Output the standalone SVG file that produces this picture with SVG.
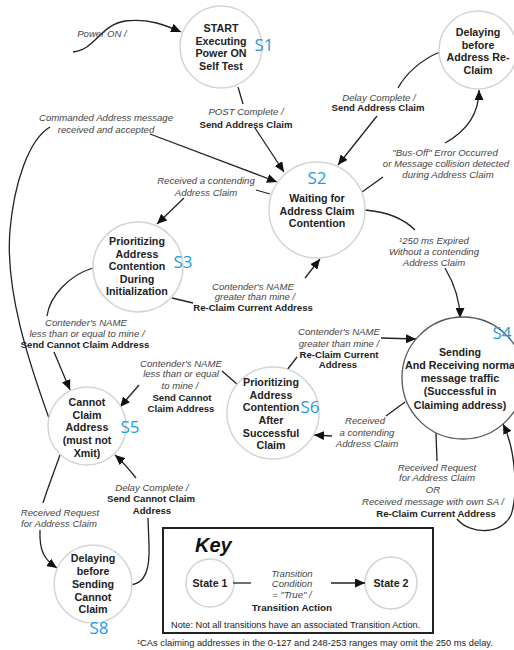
<svg xmlns="http://www.w3.org/2000/svg" width="514" height="650" viewBox="0 0 514 650">
<style>
.st{fill:#fff;stroke:#d4d4d4;stroke-width:1.5}
.st4{fill:#fff;stroke:#555;stroke-width:1.3}
.nt{font-family:"Liberation Sans",Arial,sans-serif;font-size:10.7px;font-weight:bold;fill:#222;text-anchor:middle}
.lb{font-family:"Liberation Sans",Arial,sans-serif;font-size:9.6px;font-style:italic;fill:#444;text-anchor:middle}
.lbb{font-family:"Liberation Sans",Arial,sans-serif;font-size:9.6px;font-weight:bold;fill:#222;text-anchor:middle}
.sid{font-family:"Open Sans","DejaVu Sans",sans-serif;font-size:17px;fill:#1E9CE3;text-anchor:middle}
.cn{fill:none;stroke:#222;stroke-width:1.3}
.ar{marker-end:url(#ah)}
.sm{font-family:"Liberation Sans",Arial,sans-serif;font-size:9.2px;fill:#222}
</style>
<defs>
<marker id="ah" markerUnits="userSpaceOnUse" markerWidth="11" markerHeight="9" refX="10" refY="4.5" orient="auto">
<path d="M0,0 L10,4.5 L0,9 z" fill="#111"/>
</marker>
</defs>
<rect width="514" height="650" fill="#fff"/>

<g id="connectors">
<path class="cn ar" d="M73,52 C95,50 100,25 125,21 C148,18 165,25 181,32"/>
<path class="cn" d="M238,87 L243,104"/>
<path class="cn ar" d="M255,128 L284,172"/>
<path class="cn" d="M440,52 C420,60 405,75 398,88"/>
<path class="cn ar" d="M377,116 L338,165"/>
<path class="cn" d="M362,192 L383,177"/>
<path class="cn ar" d="M445,143 C465,132 479,115 479,90"/>
<path class="cn" d="M50,421 C28,360 5,290 10,230 C14,185 28,140 50,127"/>
<path class="cn ar" d="M150,134 L277,182"/>
<path class="cn" d="M270,194 L256,190"/>
<path class="cn ar" d="M184,198 L157,224"/>
<path class="cn" d="M172,298 L193,303"/>
<path class="cn ar" d="M305,278 L320,259"/>
<path class="cn" d="M365,210 C390,212 405,220 415,230"/>
<path class="cn ar" d="M445,268 C455,285 460,300 460,318"/>
<path class="cn" d="M287,370 L297,357"/>
<path class="cn ar" d="M381,338 L416,339"/>
<path class="cn" d="M405,402 L386,416"/>
<path class="cn ar" d="M332,436 L314,435"/>
<path class="cn" d="M436,433 L437,461"/>
<path class="cn ar" d="M457,519 C470,535 502,535 511,515 C518,495 516,450 503,424"/>
<path class="cn" d="M93,268 C70,275 50,295 47,316"/>
<path class="cn ar" d="M54,352 L70,390"/>
<path class="cn" d="M238,385 L222,371"/>
<path class="cn ar" d="M139,385 L120,407"/>
<path class="cn" d="M131,585 C145,583 150,570 149,545 L148,518"/>
<path class="cn ar" d="M136,478 C128,468 122,461 115,455"/>
<path class="cn" d="M60,455 C54,472 47,490 43,503"/>
<path class="cn ar" d="M40,530 C39,552 45,560 57,568"/>
</g>

<g id="labels">
<text class="lb" x="102" y="37">Power ON /</text>
<text class="lb" x="246" y="115">POST Complete /</text>
<text class="lbb" x="246" y="127.5">Send Address Claim</text>
<text class="lb" x="379" y="100.5">Delay Complete /</text>
<text class="lbb" x="378" y="110.5">Send Address Claim</text>
<text class="lb" x="445" y="155.5">"Bus-Off" Error Occurred</text>
<text class="lb" x="446" y="166.5">or Message collision detected</text>
<text class="lb" x="448" y="178">during Address Claim</text>
<text class="lb" x="106" y="120.5">Commanded Address message</text>
<text class="lb" x="106" y="132.5">received and accepted</text>
<text class="lb" x="206" y="183.5">Received a contending</text>
<text class="lb" x="206" y="195.5">Address Claim</text>
<text class="lb" x="253" y="289.5">Contender's NAME</text>
<text class="lb" x="255" y="299.5">greater than mine /</text>
<text class="lbb" x="253" y="310.5">Re-Claim Current Address</text>
<text class="lb" x="434" y="243.5">¹250 ms Expired</text>
<text class="lb" x="434" y="254.5">Without a contending</text>
<text class="lb" x="434" y="265.5">Address Claim</text>
<text class="lb" x="339" y="334.5">Contender's NAME</text>
<text class="lb" x="339" y="346.5">greater than mine /</text>
<text class="lbb" x="339" y="357.5">Re-Claim Current</text>
<text class="lbb" x="338" y="367.5">Address</text>
<text class="lb" x="365" y="423.5">Received</text>
<text class="lb" x="367" y="435.5">a contending</text>
<text class="lb" x="367" y="446.5">Address Claim</text>
<text class="lb" x="437" y="470.5">Received Request</text>
<text class="lb" x="437" y="480.5">for Address Claim</text>
<text class="lb" x="433" y="492.5">OR</text>
<text class="lb" x="433" y="504.5">Received message with own SA /</text>
<text class="lbb" x="436" y="516.5">Re-Claim Current Address</text>
<text class="lb" x="86" y="325.5">Contender's NAME</text>
<text class="lb" x="87" y="336.5">less than or equal to mine /</text>
<text class="lbb" x="85" y="347.5">Send Cannot Claim Address</text>
<text class="lb" x="181" y="366.5">Contender's NAME</text>
<text class="lb" x="181" y="376.5">less than or equal</text>
<text class="lb" x="180" y="388.5">to mine /</text>
<text class="lbb" x="182" y="400.5">Send Cannot</text>
<text class="lbb" x="181" y="411.5">Claim Address</text>
<text class="lb" x="152" y="490.5">Delay Complete /</text>
<text class="lbb" x="151" y="501.5">Send Cannot Claim</text>
<text class="lbb" x="152" y="513.5">Address</text>
<text class="lb" x="60" y="515.5">Received Request</text>
<text class="lb" x="59" y="526.5">for Address Claim</text>
</g>

<g id="s1">
<circle class="st" cx="221" cy="47" r="41"/>
<text class="nt" x="221" y="32.2">START</text>
<text class="nt" x="221" y="44.8">Executing</text>
<text class="nt" x="221" y="57.4">Power ON</text>
<text class="nt" x="221" y="70">Self Test</text>
<text class="sid" x="264" y="51">S1</text>
</g>

<g id="delay-reclaim">
<circle class="st" cx="478" cy="50" r="39"/>
<text class="nt" x="478" y="36">Delaying</text>
<text class="nt" x="478" y="48.5">before</text>
<text class="nt" x="478" y="61">Address Re-</text>
<text class="nt" x="478" y="73.5">Claim</text>
</g>

<g id="s2">
<circle class="st" cx="317" cy="210" r="48"/>
<text class="sid" x="317" y="184">S2</text>
<text class="nt" x="317" y="202">Waiting for</text>
<text class="nt" x="317" y="214.5">Address Claim</text>
<text class="nt" x="317" y="227">Contention</text>
</g>

<g id="s3">
<circle class="st" cx="138" cy="267" r="45"/>
<text class="nt" x="137" y="245">Prioritizing</text>
<text class="nt" x="137" y="257.5">Address</text>
<text class="nt" x="137" y="270">Contention</text>
<text class="nt" x="137" y="282.5">During</text>
<text class="nt" x="137" y="295">Initialization</text>
<text class="sid" x="183" y="268">S3</text>
</g>

<g id="s4">
<circle class="st4" cx="463" cy="378" r="61"/>
<text class="nt" x="460" y="356">Sending</text>
<text class="nt" x="460" y="369">And Receiving norma</text>
<text class="nt" x="460" y="382">message traffic</text>
<text class="nt" x="460" y="394.5">(Successful in</text>
<text class="nt" x="460" y="408.5">Claiming address)</text>
<text class="sid" x="502" y="339">S4</text>
</g>

<g id="s6">
<circle class="st" cx="273" cy="413" r="46"/>
<text class="nt" x="271" y="386">Prioritizing</text>
<text class="nt" x="271" y="398.5">Address</text>
<text class="nt" x="271" y="411">Contention</text>
<text class="nt" x="271" y="423.5">After</text>
<text class="nt" x="271" y="436.5">Successful</text>
<text class="nt" x="271" y="449">Claim</text>
<text class="sid" x="310" y="413">S6</text>
</g>

<g id="s5">
<circle class="st" cx="87" cy="426" r="39"/>
<text class="nt" x="87" y="406">Cannot</text>
<text class="nt" x="87" y="418.5">Claim</text>
<text class="nt" x="87" y="431">Address</text>
<text class="nt" x="87" y="443.5">(must not</text>
<text class="nt" x="87" y="457">Xmit)</text>
<text class="sid" x="130" y="433">S5</text>
</g>

<g id="s8">
<circle class="st" cx="93" cy="584" r="39"/>
<text class="nt" x="93" y="562">Delaying</text>
<text class="nt" x="93" y="575">before</text>
<text class="nt" x="93" y="588">Sending</text>
<text class="nt" x="93" y="600.5">Cannot</text>
<text class="nt" x="93" y="613">Claim</text>
<text class="sid" x="99" y="634">S8</text>
</g>

<g id="key">
<rect x="163" y="528" width="270" height="105" fill="none" stroke="#222" stroke-width="2"/>
<text x="195" y="552" font-family="Liberation Sans, Arial, sans-serif" font-size="20" font-weight="bold" font-style="italic" fill="#111">Key</text>
<circle class="st" cx="210" cy="583" r="24"/>
<text class="nt" x="210" y="587">State 1</text>
<circle class="st" cx="391" cy="583" r="26"/>
<text class="nt" x="391" y="587">State 2</text>
<path class="cn" d="M233,583 L251,583"/>
<path class="cn ar" d="M331,583 L365,583"/>
<text class="lb" x="292" y="576.5">Transition</text>
<text class="lb" x="292" y="586.5">Condition</text>
<text class="lb" x="292" y="597.5">= "True" /</text>
<text class="lbb" x="292" y="610.5" style="font-size:9.9px">Transition Action</text>
<text class="sm" x="171" y="628">Note: Not all transitions have an associated Transition Action.</text>
</g>

<text class="sm" x="137" y="646" style="font-size:9.3px">¹CAs claiming addresses in the 0-127 and 248-253 ranges may omit the 250 ms delay.</text>
</svg>
